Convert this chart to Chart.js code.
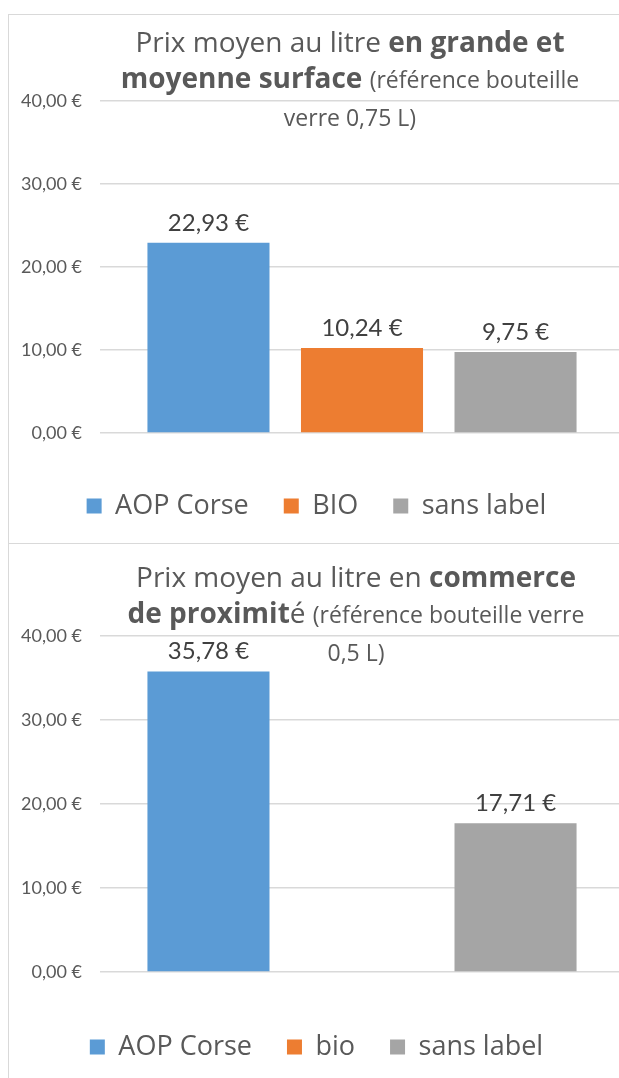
<!DOCTYPE html>
<html>
<head>
  <title>Prix moyen au litre</title>
  <script src="https://cdn.jsdelivr.net/npm/chart.js"></script>
  <style>
    body { margin: 0; background: #fff; overflow: hidden; }
    .box { position: absolute; left: 8px; width: 640px; border: 1px solid #d9d9d9; box-sizing: border-box; }
    #box1 { top: 14px; height: 530px; }
    #box2 { top: 544px; height: 560px; border-top: none; }
    .box canvas { position: absolute; left: 0; top: 0; }
    .title { position: absolute; width: 682px; text-align: center; font-family: "Open Sans", sans-serif;
             font-size: 28px; line-height: 36px; color: #595959; white-space: nowrap; }
    .title b { font-weight: bold; }
    .title small { font-size: 23px; }
  </style>
</head>
<body>
  <div class="box" id="box1">
    <canvas id="chart1" width="620" height="528"></canvas>
    <div class="title" style="top:8px; left:0">Prix moyen au litre <b>en grande et</b><br><b>moyenne surface</b> <small>(référence bouteille</small><br><small>verre 0,75 L)</small></div>
  </div>
  <div class="box" id="box2">
    <canvas id="chart2" width="620" height="534"></canvas>
    <div class="title" style="top:14px; left:6px">Prix moyen au litre en <b>commerce</b><br><b>de proximit</b>é <small>(référence bouteille verre</small><br><small>0,5 L)</small></div>
  </div>

  <script>
    const categories = ['Prix moyen au litre'];
    const seriesNames1 = ['AOP Corse', 'BIO', 'sans label'];
    const seriesNames2 = ['AOP Corse', 'bio', 'sans label'];
    const values1 = [22.93, 10.24, 9.75];
    const values2 = [35.78, null, 17.71];
    const colors = ['#5b9bd5', '#ed7d31', '#a5a5a5'];
    const yTicks = [0, 10, 20, 30, 40];

    const euro = v => v.toFixed(2).replace('.', ',') + ' €';

    // valeurs au-dessus des barres
    const valueLabels = {
      id: 'valueLabels',
      afterDatasetsDraw(chart) {
        const ctx = chart.ctx;
        ctx.save();
        ctx.font = '24px Lato';
        ctx.fillStyle = '#404040';
        ctx.textAlign = 'center';
        ctx.textBaseline = 'alphabetic';
        chart.data.datasets.forEach((ds, i) => {
          const meta = chart.getDatasetMeta(i);
          meta.data.forEach((bar, j) => {
            const v = ds.data[j];
            if (v == null) return;
            ctx.fillText(euro(v), bar.x, bar.y - 12);
          });
        });
        ctx.restore();
      }
    };

    function makeChart(id, names, values, padTop, padBottom, xHeight) {
      new Chart(document.getElementById(id), {
        type: 'bar',
        data: {
          labels: categories,
          datasets: names.map((n, i) => ({
            label: n,
            data: [values[i]],
            backgroundColor: colors[i],
            borderWidth: 0,
            categoryPercentage: 0.879,
            barPercentage: 0.795
          }))
        },
        options: {
          responsive: false,
          animation: false,
          layout: { padding: { top: padTop, bottom: padBottom, left: 0, right: 5 } },
          plugins: {
            legend: {
              position: 'bottom',
              labels: {
                font: { family: 'Open Sans', size: 27 },
                color: '#595959',
                boxWidth: 15,
                boxHeight: 15,
                padding: 35
              }
            },
            tooltip: { enabled: false }
          },
          scales: {
            x: {
              ticks: { display: false },
              grid: { display: false },
              border: { display: false },
              afterFit: s => { s.height = xHeight; }
            },
            y: {
              min: 0,
              max: 40,
              afterBuildTicks: s => { s.ticks = yTicks.map(v => ({ value: v })); },
              ticks: {
                callback: v => euro(v),
                font: { family: 'Lato', size: 18 },
                color: '#595959',
                padding: 18
              },
              grid: { color: '#d9d9d9', lineWidth: 1.5, drawTicks: false },
              border: { display: false },
              afterFit: s => { s.width = 91; }
            }
          }
        },
        plugins: [valueLabels]
      });
    }

    makeChart('chart1', seriesNames1, values1, 86, 13.5, 24.5);
    makeChart('chart2', seriesNames2, values2, 92, 7.5, 26.5);
  </script>
</body>
</html>
